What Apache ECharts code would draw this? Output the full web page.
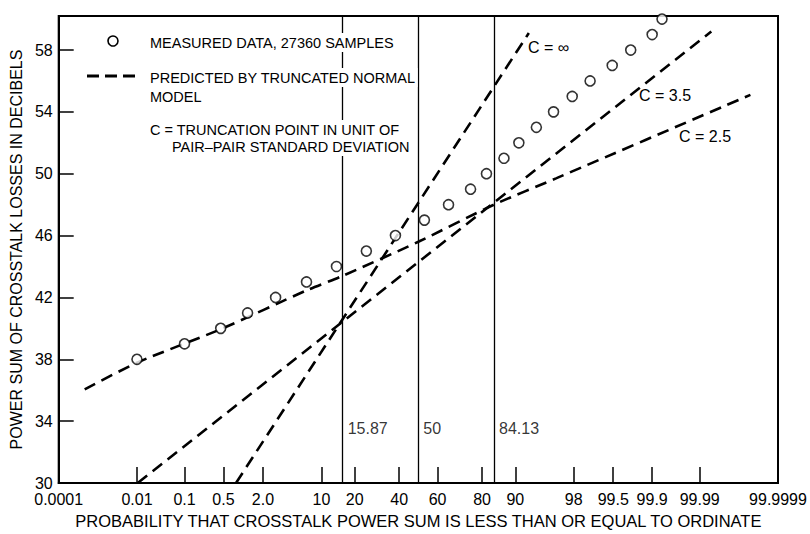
<!DOCTYPE html>
<html><head><meta charset="utf-8">
<script src="https://cdn.jsdelivr.net/npm/echarts@6/dist/echarts.min.js"></script>
<style>html,body{margin:0;padding:0;background:#fff}#c{width:810px;height:534px}</style>
</head><body><div id="c"></div>
<script>
// ---- data ----
const measuredDb   = [38,39,40,41,42,43,44,45,46,47,48,49,50,51,52,53,54,55,56,57,58,59,60];
const measuredProb = [0.01,0.1,0.45,1.20,2.96,6.97,13.96,24.6,38.1,53.2,65.5,75.5,81.6,87.1,90.8,94.06,96.3,97.9,98.84,99.48,99.75,99.90,99.936];

const cInfProb = [0.798, 92.79];
const cInfDb   = [30, 59.1];
const c35Prob  = [0.0104, 99.9946];
const c35Db    = [30, 59.2];
const c25Prob  = [0.000517, 0.0104, 0.453, 6.94, 15.87, 50, 84.13, 96.56, 99.99943];
const c25Db    = [36.06, 37.8, 39.95, 42.45, 43.4, 45.6, 48.0, 49.7, 55.1];

const refLineProb  = [15.87, 50, 84.13];
const refLineLabel = ['15.87', '50', '84.13'];

const xTickProb   = [0.0001,0.01,0.1,0.5,2,10,20,40,60,80,90,98,99.5,99.9,99.99,99.9999];
const xTickLabels = ['0.0001','0.01','0.1','0.5','2.0','10','20','40','60','80','90','98','99.5','99.9','99.99','99.9999'];
const yTicks      = [30,34,38,42,46,50,54,58];

// ---- normal probability scale (probit) ----
function probit(p){
  const a=[-3.969683028665376e+01,2.209460984245205e+02,-2.759285104469687e+02,1.383577518672690e+02,-3.066479806614716e+01,2.506628277459239e+00];
  const b=[-5.447609879822406e+01,1.615858368580409e+02,-1.556989798598866e+02,6.680131188771972e+01,-1.328068155288572e+01];
  const c=[-7.784894002430293e-03,-3.223964580411365e-01,-2.400758277161838e+00,-2.549732539343734e+00,4.374664141464968e+00,2.938163982698783e+00];
  const d=[7.784695709041462e-03,3.224671290700398e-01,2.445134137142996e+00,3.754408661907416e+00];
  const pl=0.02425, ph=1-pl; let q,r;
  if(p<pl){q=Math.sqrt(-2*Math.log(p));return (((((c[0]*q+c[1])*q+c[2])*q+c[3])*q+c[4])*q+c[5])/((((d[0]*q+d[1])*q+d[2])*q+d[3])*q+1);}
  if(p<=ph){q=p-0.5;r=q*q;return (((((a[0]*r+a[1])*r+a[2])*r+a[3])*r+a[4])*r+a[5])*q/(((((b[0]*r+b[1])*r+b[2])*r+b[3])*r+b[4])*r+1);}
  q=Math.sqrt(-2*Math.log(1-p));return -(((((c[0]*q+c[1])*q+c[2])*q+c[3])*q+c[4])*q+c[5])/((((d[0]*q+d[1])*q+d[2])*q+d[3])*q+1);
}
const Z = pct => probit(pct/100);
const pair = (probs, dbs) => probs.map((p,i)=>[Z(p), dbs[i]]);

const xTickZ = xTickProb.map(Z);
const xMin = xTickZ[0], xMax = xTickZ[xTickZ.length-1];
const FONT = 'Liberation Sans, Arial, sans-serif';

const chart = echarts.init(document.getElementById('c'), null, {renderer:'svg'});
const dashed = {color:'#000', width:2.6, type:[12,7]};

chart.setOption({
  animation:false,
  backgroundColor:'#fff',
  grid:{left:58, right:32, top:16, bottom:45, show:true, borderColor:'#000', borderWidth:2, backgroundColor:'transparent'},
  xAxis:{
    type:'value', min:xMin, max:xMax,
    name:'PROBABILITY THAT CROSSTALK POWER SUM IS LESS THAN OR EQUAL TO ORDINATE',
    nameLocation:'middle', nameGap:29,
    nameTextStyle:{color:'#000', fontSize:16.5, fontFamily:FONT},
    axisLine:{onZero:false, lineStyle:{color:'#000', width:2}},
    axisTick:{inside:true, length:16, customValues:xTickZ.slice(1,-1), lineStyle:{color:'#000', width:1.5}},
    axisLabel:{customValues:xTickZ, color:'#000', fontSize:16, fontFamily:FONT, margin:8,
      formatter:v=>{for(let i=0;i<xTickZ.length;i++){if(Math.abs(xTickZ[i]-v)<1e-6)return xTickLabels[i];}return '';}},
    splitLine:{show:false}
  },
  yAxis:{
    type:'value', min:30, max:60.2,
    name:'POWER SUM OF CROSSTALK LOSSES IN DECIBELS',
    nameLocation:'middle', nameGap:32,
    nameTextStyle:{color:'#000', fontSize:16, fontFamily:FONT},
    axisLine:{onZero:false, lineStyle:{color:'#000', width:2}},
    axisTick:{inside:true, length:15, customValues:yTicks, lineStyle:{color:'#000', width:1.5}},
    axisLabel:{customValues:yTicks, color:'#000', fontSize:16, fontFamily:FONT, margin:6, verticalAlign:'middle'},
    splitLine:{show:false}
  },
  series:[
    {type:'line', name:'ref', data:[], markLine:{silent:true, symbol:['none','none'], label:{show:false},
      lineStyle:{color:'#000', width:1.3, type:'solid'},
      data:refLineProb.map(p=>({xAxis:Z(p)}))}},
    {type:'line', name:'C=inf', data:pair(cInfProb,cInfDb), showSymbol:false, lineStyle:dashed},
    {type:'line', name:'C=3.5', data:pair(c35Prob,c35Db), showSymbol:false, lineStyle:dashed},
    {type:'line', name:'C=2.5', data:pair(c25Prob,c25Db), showSymbol:false, smooth:0.25, lineStyle:dashed},
    {type:'scatter', name:'measured', data:pair(measuredProb,measuredDb), symbol:'circle', symbolSize:10, clip:false, z:5,
      itemStyle:{color:'#fff', borderColor:'#000', borderWidth:1.6}},
    {type:'scatter', name:'refLabels', symbolSize:0, silent:true,
      data:refLineProb.map(p=>[Z(p),33.5]),
      label:{show:true, position:'right', distance:5, color:'#000', fontSize:16, fontFamily:FONT,
        formatter:pr=>refLineLabel[pr.dataIndex]}}
  ],
  graphic:[
    {type:'circle', z:100, shape:{cx:113, cy:41, r:5}, style:{fill:'#fff', stroke:'#000', lineWidth:1.6}},
    {type:'text', z:100, left:148, top:33, style:{text:'MEASURED DATA, 27360 SAMPLES', fill:'#000', font:'14.5px '+FONT, backgroundColor:'#fff', padding:[2,2]}},
    {type:'line', z:100, shape:{x1:87, y1:76, x2:136, y2:76}, style:{stroke:'#000', lineWidth:3, lineDash:[12,6]}},
    {type:'text', z:100, left:148, top:68, style:{text:'PREDICTED BY TRUNCATED NORMAL', fill:'#000', font:'14.5px '+FONT, backgroundColor:'#fff', padding:[2,2]}},
    {type:'text', z:100, left:148, top:87, style:{text:'MODEL', fill:'#000', font:'14.5px '+FONT, backgroundColor:'#fff', padding:[2,2]}},
    {type:'text', z:100, left:148, top:120, style:{text:'C = TRUNCATION POINT IN UNIT OF', fill:'#000', font:'14.5px '+FONT, backgroundColor:'#fff', padding:[2,2]}},
    {type:'text', z:100, left:170, top:137, style:{text:'PAIR\u2013PAIR STANDARD DEVIATION', fill:'#000', font:'14.5px '+FONT, backgroundColor:'#fff', padding:[2,2]}},
    {type:'text', z:100, left:528, top:39, style:{text:'C = \u221E', fill:'#000', font:'16px '+FONT}},
    {type:'text', z:100, left:639, top:87, style:{text:'C = 3.5', fill:'#000', font:'16px '+FONT}},
    {type:'text', z:100, left:679, top:128, style:{text:'C = 2.5', fill:'#000', font:'16px '+FONT}}
  ]
});
</script></body></html>
